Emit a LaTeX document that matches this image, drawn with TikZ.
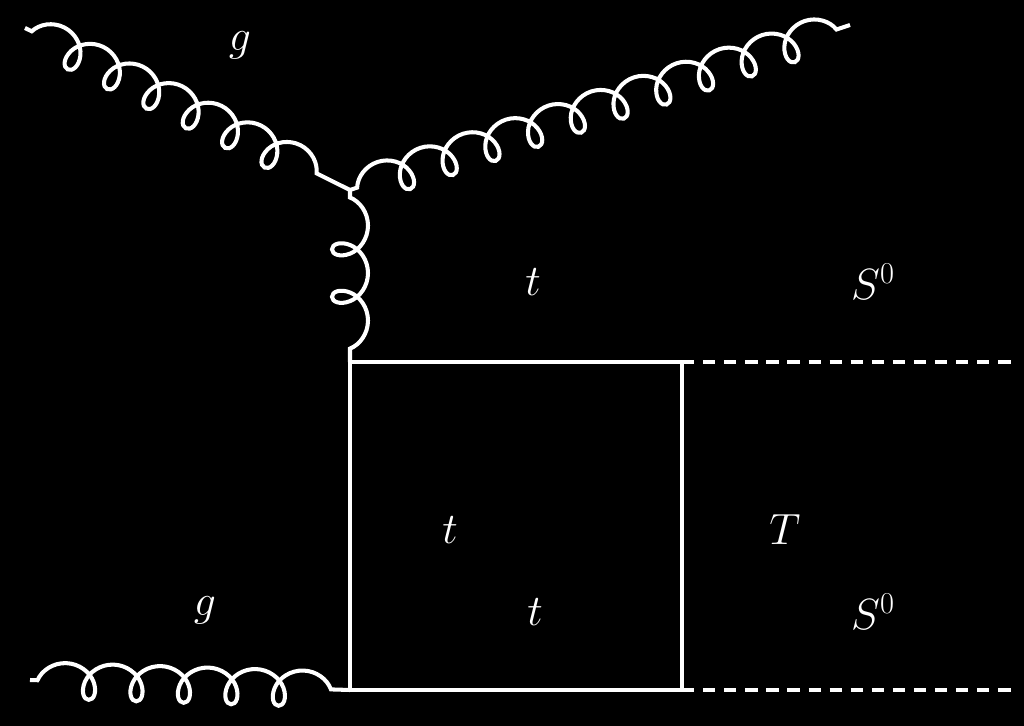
\documentclass[tikz,border=0pt]{standalone}
\usetikzlibrary{decorations.pathmorphing}
\begin{document}
\begin{tikzpicture}[x=0.02cm,y=-0.02cm,
  line width=2.3pt, white,
  gluon/.style={decorate,decoration={coil,aspect=0.9,amplitude=0.36cm,segment length=#1,pre length=0.15cm,post length=0.15cm}},
  fermion/.style={},
  scalar/.style={dashed,dash pattern=on 7pt off 5pt},
  lab/.style={font=\fontsize{24}{28}\selectfont}]
\fill[black] (0,0) rectangle (1024,726);
\useasboundingbox (0,0) rectangle (1024,726);
\coordinate (g1) at (25,28);
\coordinate (g2) at (850,25);
\coordinate (v) at (350,190);
\coordinate (a) at (350,362);
\coordinate (b) at (682,362);
\coordinate (c) at (682,690);
\coordinate (d) at (350,690);
\coordinate (s1) at (1015,362);
\coordinate (s2) at (1015,690);
\coordinate (g3) at (30,680);
\draw[gluon=0.88cm] (g1) -- (v);
\draw[gluon=0.9cm] (v) -- (g2);
\draw[gluon=0.95cm] (v) -- (a);
\draw[gluon=0.95cm] (g3) -- (d);
\draw (a) -- (b) -- (c) -- (d) -- cycle;
\draw[scalar] (b) -- (s1);
\draw[scalar] (c) -- (s2);
\node[lab] (l1) at (240,45) {$g$};
\node[lab] (l2) at (533,282) {$t$};
\node[lab] (l3) at (873,282) {$S^0$};
\node[lab] (l4) at (450,530) {$t$};
\node[lab] (l5) at (785,530) {$T$};
\node[lab] (l6) at (205,610) {$g$};
\node[lab] (l7) at (535,612) {$t$};
\node[lab] (l8) at (873,612) {$S^0$};
\end{tikzpicture}
\end{document}
